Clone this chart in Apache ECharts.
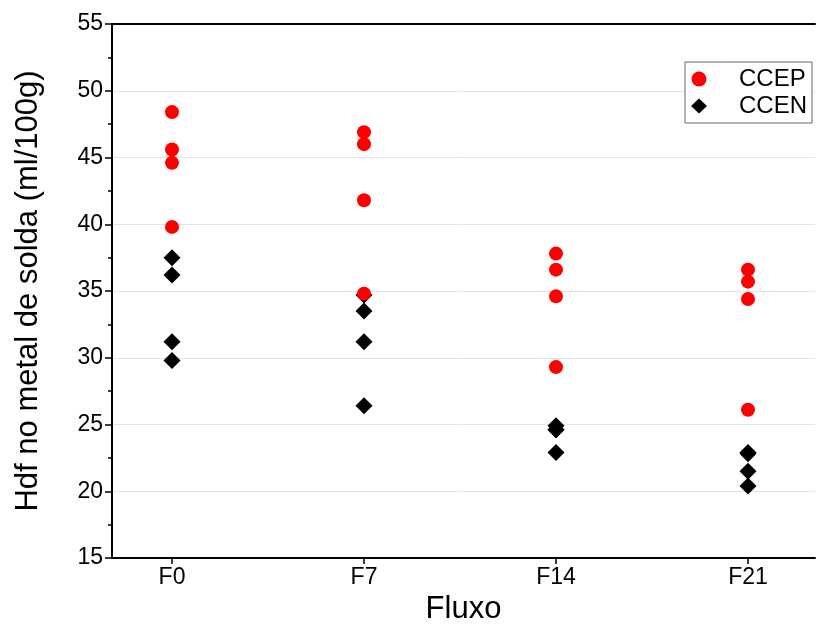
<!DOCTYPE html>
<html>
<head>
<meta charset="utf-8">
<script src="https://cdn.jsdelivr.net/npm/echarts@6/dist/echarts.min.js"></script>
<style>
  html, body { margin: 0; padding: 0; background: #fff; }
  #chart { width: 817px; height: 637px; }
</style>
</head>
<body>
<div id="chart"></div>
<script>
// Flux categories on the x axis
const categories = ['F0', 'F7', 'F14', 'F21'];

// Diffusible hydrogen (ml/100g) measured for each flux
const ccepValues = [
  [48.4, 45.6, 44.6, 39.8],
  [46.9, 46.0, 41.8, 34.8],
  [37.8, 36.6, 34.6, 29.3],
  [36.6, 35.7, 34.4, 26.1]
];
const ccenValues = [
  [37.5, 36.2, 31.2, 29.8],
  [34.7, 33.5, 31.2, 26.4],
  [24.9, 24.6, 24.6, 22.9],
  [22.9, 22.8, 21.5, 20.4]
];

const yTicks = [15, 20, 25, 30, 35, 40, 45, 50, 55];

function toPoints(groups) {
  const pts = [];
  groups.forEach((vals, i) => vals.forEach(v => pts.push([i, v])));
  return pts;
}

const FONT = '"Liberation Sans", Arial, sans-serif';
const chart = echarts.init(document.getElementById('chart'), null, { renderer: 'canvas' });

chart.setOption({
  animation: false,
  backgroundColor: '#fff',
  grid: { left: 112, right: 2, top: 24, bottom: 79, containLabel: false },
  legend: {
    orient: 'vertical',
    right: 5,
    top: 62,
    padding: [5, 5, 5, 6],
    itemGap: 3,
    itemWidth: 16,
    itemHeight: 15,
    borderColor: '#666',
    borderWidth: 1,
    backgroundColor: '#fff',
    textStyle: { fontFamily: FONT, fontSize: 24, color: '#000', padding: [0, 0, 0, 27] },
    data: ['CCEP', 'CCEN']
  },
  xAxis: [{
    type: 'value',
    min: -0.3125,
    max: 3.349,
    name: 'Fluxo',
    nameLocation: 'middle',
    nameGap: 22,
    nameTextStyle: { fontFamily: FONT, fontSize: 31, color: '#000' },
    axisLine: { show: true, onZero: false, lineStyle: { color: '#000', width: 2 } },
    axisTick: { show: true, customValues: [0, 1, 2, 3], length: 6, inside: false, lineStyle: { color: '#000', width: 1.5 } },
    axisLabel: {
      customValues: [0, 1, 2, 3],
      formatter: v => categories[Math.round(v)],
      fontFamily: FONT, fontSize: 23, color: '#000', margin: 8
    },
    splitLine: { show: false },
    minorTick: { show: false }
  }, {
    type: 'value',
    position: 'top',
    min: -0.3125,
    max: 3.349,
    axisLine: { show: true, onZero: false, lineStyle: { color: '#000', width: 2 } },
    axisTick: { show: false },
    axisLabel: { show: false },
    splitLine: { show: false }
  }],
  yAxis: {
    type: 'value',
    min: yTicks[0],
    max: yTicks[yTicks.length - 1],
    interval: 5,
    name: 'Hdf no metal de solda (ml/100g)',
    nameLocation: 'middle',
    nameGap: 68,
    nameRotate: 90,
    nameTextStyle: { fontFamily: FONT, fontSize: 31, color: '#000' },
    axisLine: { show: true, onZero: false, lineStyle: { color: '#000', width: 2 } },
    axisTick: { show: true, length: 7, lineStyle: { color: '#000', width: 1.5 } },
    minorTick: { show: true, splitNumber: 2, length: 4, lineStyle: { color: '#000', width: 1.5 } },
    axisLabel: { fontFamily: FONT, fontSize: 23, color: '#000', margin: 9 },
    splitLine: { show: true, lineStyle: { color: '#e4e4e4', width: 1 } }
  },
  series: [{
    name: 'CCEP',
    type: 'scatter',
    symbol: 'circle',
    symbolSize: 14,
    z: 3,
    itemStyle: { color: '#f00', opacity: 1 },
    data: toPoints(ccepValues)
  }, {
    name: 'CCEN',
    type: 'scatter',
    symbol: 'diamond',
    symbolSize: [17, 17],
    z: 2,
    itemStyle: { color: '#000', opacity: 1 },
    data: toPoints(ccenValues)
  }]
});
</script>
</body>
</html>
